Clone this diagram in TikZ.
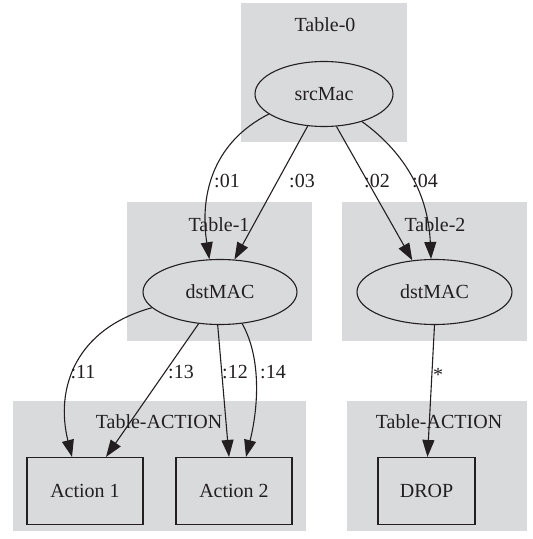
\documentclass[tikz,border=0pt]{standalone}
\usepackage{fontspec}
\setmainfont{Liberation Serif}
\usepackage{tikz}
\usetikzlibrary{shapes.geometric}
\usetikzlibrary{arrows.meta}
\definecolor{clustergray}{RGB}{217,218,220}
\definecolor{inkgray}{RGB}{35,31,32}

\begin{document}
\begin{tikzpicture}[x=1pt,y=1pt,color=inkgray,line width=1.1pt,
    font=\fontsize{20}{24}\selectfont,
    tblstate/.style={draw,ellipse,inner sep=0pt,minimum height=65pt},
    tblaction/.style={draw,rectangle,inner sep=0pt,minimum height=67pt},
    tbltitle/.style={anchor=base,inner sep=0pt},
    matchlbl/.style={anchor=base,inner sep=0pt},
    flow/.style={-{Triangle[length=17pt,width=12pt]}}]
    \useasboundingbox (0,0) rectangle (533,539);
    % clusters
    \fill[clustergray] (241,536) rectangle (407,397);
    \fill[clustergray] (127,337) rectangle (312,198);
    \fill[clustergray] (342,337) rectangle (527,198);
    \fill[clustergray] (13,138) rectangle (306,8);
    \fill[clustergray] (347,138) rectangle (527,8);
    \node[tbltitle] (t0) at (325,507) {Table-0};
    \node[tbltitle] (t1) at (219,307) {Table-1};
    \node[tbltitle] (t2) at (435,307) {Table-2};
    \node[tbltitle] (ta) at (159,110) {Table-ACTION};
    \node[tbltitle] (tb) at (439,110) {Table-ACTION};
    % tables
    \node[tblstate,minimum width=138pt] (src) at (324,445) {srcMac};
    \node[tblstate,minimum width=154pt] (dst1) at (220,247) {dstMAC};
    \node[tblstate,minimum width=155pt] (dst2) at (434.5,247) {dstMAC};
    \node[tblaction,minimum width=116pt] (act1) at (85,48) {Action 1};
    \node[tblaction,minimum width=116pt] (act2) at (234,48) {Action 2};
    \node[tblaction,minimum width=97pt] (drop) at (426.5,48) {DROP};
    % srcMac -> dstMAC
    \draw[flow] (src.200) .. controls (210,395) and (200,340) .. (dst1.108);
    \draw[flow] (src.243) -- (dst1.66);
    \draw[flow] (src.291) -- (dst2.125);
    \draw[flow] (src.324) .. controls (400,390) and (428,350) .. (dst2.96);
    \node[matchlbl] (l01) at (227,351) {:01};
    \node[matchlbl] (l03) at (302,351) {:03};
    \node[matchlbl] (l02) at (377,351) {:02};
    \node[matchlbl] (l04) at (425,351) {:04};
    % dstMAC -> actions
    \draw[flow] (dst1.193) .. controls (75,210) and (55,150) .. ([xshift=-13pt]act1.north);
    \draw[flow] (dst1.236) -- ([xshift=21pt]act1.north);
    \draw[flow] (dst1.266) -- ([xshift=-5pt]act2.north);
    \draw[flow] (dst1.305) .. controls (262,180) and (258,130) .. ([xshift=12pt]act2.north);
    \draw[flow] (dst2.south) -- ([xshift=1pt]drop.north);
    \node[matchlbl] (l11) at (83,160) {:11};
    \node[matchlbl] (l13) at (181,160) {:13};
    \node[matchlbl] (l12) at (235,160) {:12};
    \node[matchlbl] (l14) at (273,160) {:14};
    \node[matchlbl] (lany) at (438,157) {*};
\end{tikzpicture}
\end{document}
